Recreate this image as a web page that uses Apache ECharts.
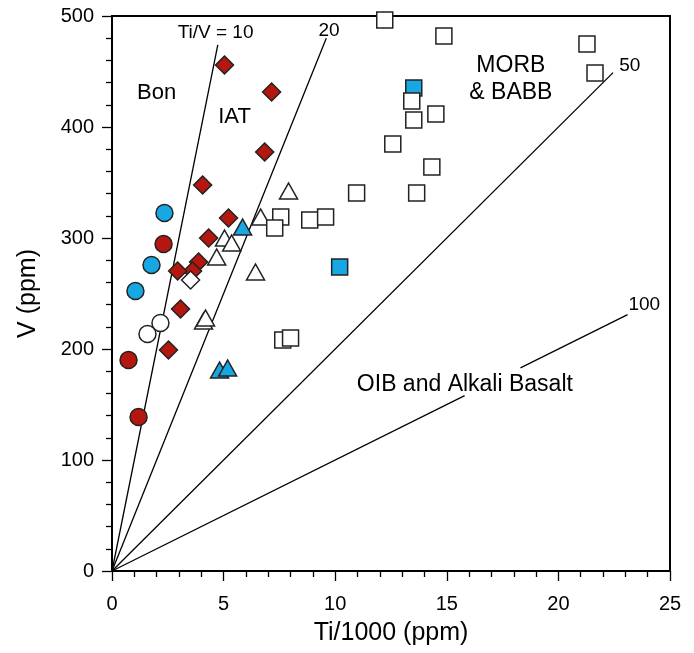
<!DOCTYPE html>
<html>
<head>
<meta charset="utf-8">
<script src="https://cdn.jsdelivr.net/npm/echarts@6/dist/echarts.min.js"></script>
<style>
html,body{margin:0;padding:0;background:#fff;}
#chart{width:694px;height:653px;}
</style>
</head>
<body>
<div id="chart"></div>
<script>
// ---- data (Ti/1000 ppm, V ppm) ----
const redCircles   = [[2.31,294.6],[0.74,190.1],[1.19,138.7]];
const blueCircles  = [[2.35,322.5],[1.77,275.7],[1.05,252.3]];
const openCircles  = [[2.17,223.4],[1.59,213.5]];
const redDiamonds  = [[5.04,455.9],[7.15,431.5],[6.84,377.5],[4.06,347.7],[5.22,318.0],[4.33,300.0],
                      [3.88,278.4],[3.61,270.3],[2.94,270.3],[3.07,236.0],[2.53,199.1]];
const openDiamonds = [[3.52,262.2]];
const openTriangles= [[7.91,342.3],[6.66,318.9],[5.04,300.0],[5.36,295.5],[4.69,282.9],[6.43,269.4],
                      [4.10,225.2],[4.19,227.9]];
const blueTriangles= [[5.85,309.9],[4.82,181.1],[5.18,182.9]];
const blueSquares  = [[13.52,435.1],[10.20,273.9]];
const openSquares  = [[12.22,496.4],[14.87,482.0],[21.28,474.8],[21.64,448.6],[13.43,423.4],[14.51,411.7],
                      [13.52,406.3],[12.58,384.7],[14.33,364.0],[10.96,340.5],[13.65,340.5],[7.56,318.9],
                      [7.29,309.0],[8.86,316.2],[9.57,318.9],[7.65,208.1],[8.00,209.9]];
// Ti/V reference lines: ratio and the Ti/1000 range of each drawn segment
const ratioLines = [
  {ratio:10,  segs:[[0,4.74]]},
  {ratio:20,  segs:[[0,9.60]]},
  {ratio:50,  segs:[[0,22.45]]},
  {ratio:100, segs:[[0,15.8],[18.3,23.1]]}
];
const xTicks = [0,5,10,15,20,25];
const yTicks = [0,100,200,300,400,500];
// annotation texts with their anchor in data coordinates
const annotations = [
  {text:'Ti/V = 10', at:[4.64,484.5], size:19},
  {text:'20', at:[9.72,486.5], size:19},
  {text:'50', at:[23.2,455], size:19},
  {text:'100', at:[23.85,239.5], size:19},
  {text:'Bon', at:[2.0,430.5], size:22},
  {text:'IAT', at:[5.49,409], size:22},
  {text:'MORB\n& BABB', at:[17.87,443], size:23},
  {text:'OIB and Alkali Basalt', at:[15.81,167.5], size:23}
];

const RED = '#b3170e', BLUE = '#17a8e3', EDGE = '#222';
const FONT = '"Liberation Sans", Arial, sans-serif';

function scatter(name, data, symbol, size, color){
  return {name, type:'scatter', data, symbol, symbolSize:size,
    itemStyle:{color, borderColor:EDGE, borderWidth:1.5, opacity:1},
    emphasis:{disabled:true}, silent:true, z:3};
}

const series = [];
ratioLines.forEach(l => {
  l.segs.forEach(s => {
    series.push({type:'line', data:[[s[0], s[0]*1000/l.ratio],[s[1], s[1]*1000/l.ratio]],
      symbol:'none', lineStyle:{color:'#000', width:1.3}, silent:true, z:2, animation:false});
  });
});
series.push(scatter('redCircles', redCircles, 'circle', 17, RED));
series.push(scatter('blueCircles', blueCircles, 'circle', 17, BLUE));
series.push(scatter('openCircles', openCircles, 'circle', 17, '#fff'));
series.push(scatter('redDiamonds', redDiamonds, 'diamond', 18, RED));
series.push(scatter('openDiamonds', openDiamonds, 'diamond', 18, '#fff'));
series.push(scatter('openTriangles', openTriangles, 'triangle', [18,16], '#fff'));
series.push(scatter('blueTriangles', blueTriangles, 'triangle', [18,16], BLUE));
series.push(scatter('blueSquares', blueSquares, 'rect', 16, BLUE));
series.push(scatter('openSquares', openSquares, 'rect', 16, '#fff'));

const chart = echarts.init(document.getElementById('chart'), null, {renderer:'canvas'});
chart.setOption({
  animation:false,
  backgroundColor:'#fff',
  grid:{left:112, right:24, top:16, bottom:82, show:true, borderColor:'#000', borderWidth:2, backgroundColor:'transparent'},
  xAxis:{type:'value', min:0, max:25, interval:5,
    name:'Ti/1000 (ppm)', nameLocation:'middle', nameGap:50,
    nameTextStyle:{fontSize:25, fontFamily:FONT, color:'#000'},
    axisLine:{show:true, onZero:false, lineStyle:{color:'#000', width:2}},
    axisTick:{show:true, inside:false, length:10, lineStyle:{color:'#000', width:1.3}},
    minorTick:{show:true, splitNumber:5, length:6, lineStyle:{color:'#000', width:1.3}},
    splitLine:{show:false},
    axisLabel:{fontSize:20, fontFamily:FONT, color:'#000', margin:23,
      formatter:v => xTicks.includes(v) ? String(v) : ''}
  },
  yAxis:{type:'value', min:0, max:500, interval:100,
    name:'V (ppm)', nameLocation:'middle', nameGap:71,
    nameTextStyle:{fontSize:25, fontFamily:FONT, color:'#000'},
    axisLine:{show:true, onZero:false, lineStyle:{color:'#000', width:2}},
    axisTick:{show:true, inside:false, length:10, lineStyle:{color:'#000', width:1.3}},
    minorTick:{show:true, splitNumber:5, length:6, lineStyle:{color:'#000', width:1.3}},
    splitLine:{show:false},
    axisLabel:{fontSize:20, fontFamily:FONT, color:'#000', margin:18,
      formatter:v => yTicks.includes(v) ? String(v) : ''}
  },
  tooltip:{show:false},
  series
});
// annotation texts placed through the chart's own coordinate conversion
chart.setOption({
  graphic: annotations.map(a => {
    const p = chart.convertToPixel({gridIndex:0}, a.at);
    return {type:'text', x:p[0], y:p[1], z:100, silent:true,
      style:{text:a.text, fill:'#000', fontSize:a.size, fontFamily:FONT,
        lineHeight:27, align:'center', verticalAlign:'middle'}};
  })
});
</script>
</body>
</html>
